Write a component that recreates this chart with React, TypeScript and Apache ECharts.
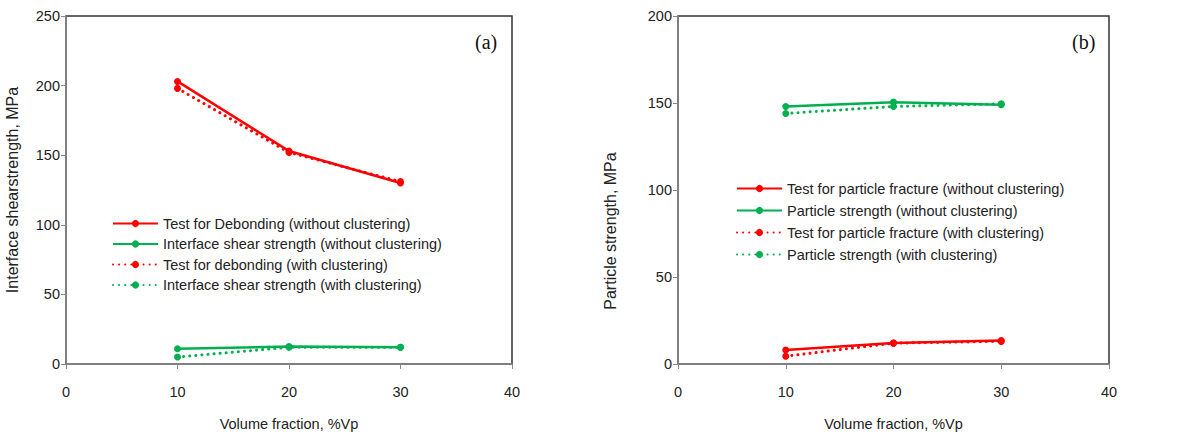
import React, { useEffect, useRef } from "react";
import * as echarts from "echarts";

const volumeFraction = [10, 20, 30];

// Panel (a)
const debondingWithout = [203, 153, 130];
const shearWithout = [11, 12.5, 12];
const debondingWith = [198, 152, 131];
const shearWith = [5, 12, 12];

// Panel (b)
const fractureWithout = [8, 12, 13.5];
const particleWithout = [148, 150.5, 149];
const fractureWith = [4.5, 12, 13];
const particleWith = [144, 148, 149.5];

const namesA = [
  "Test for Debonding (without clustering)",
  "Interface shear strength (without clustering)",
  "Test for debonding (with clustering)",
  "Interface shear strength (with clustering)",
];
const namesB = [
  "Test for particle fracture (without clustering)",
  "Particle strength (without clustering)",
  "Test for particle fracture (with clustering)",
  "Particle strength (with clustering)",
];

const RED = "#ff0000";
const GREEN = "#00b050";
const FONT = "Liberation Sans, Arial, sans-serif";

const pairs = (ys: number[]) => volumeFraction.map((x, i) => [x, ys[i]]);

function mkSeries(name: string, ys: number[], color: string, dotted: boolean, idx: number) {
  return {
    name,
    type: "line",
    xAxisIndex: idx,
    yAxisIndex: idx,
    data: pairs(ys),
    symbol: "circle",
    symbolSize: 7,
    itemStyle: { color },
    lineStyle: dotted
      ? { color, width: 3, type: [0.1, 6], cap: "round" }
      : { color, width: 2.5, type: "solid" },
  };
}

function xAxis(idx: number) {
  return {
    type: "value",
    gridIndex: idx,
    min: 0,
    max: 40,
    interval: 10,
    name: "Volume fraction, %Vp",
    nameLocation: "middle",
    nameGap: 52,
    nameTextStyle: { color: "#222", fontSize: 14.5, fontFamily: FONT },
    axisLine: { onZero: false, lineStyle: { color: "#888", width: 1.5 } },
    axisTick: { show: true, length: 5, lineStyle: { color: "#888" } },
    axisLabel: { color: "#222", fontSize: 14.5, fontFamily: FONT, margin: 20 },
    splitLine: { show: false },
  };
}

function yAxis(idx: number, max: number, name: string, gap: number) {
  return {
    type: "value",
    gridIndex: idx,
    min: 0,
    max,
    interval: 50,
    name,
    nameLocation: "middle",
    nameGap: gap,
    nameTextStyle: { color: "#222", fontSize: 16, fontFamily: FONT },
    axisLine: { show: true, lineStyle: { color: "#888", width: 1.5 } },
    axisTick: { show: true, length: 5, lineStyle: { color: "#888" } },
    axisLabel: { color: "#222", fontSize: 14.5, fontFamily: FONT, margin: 6 },
    splitLine: { show: false },
  };
}

export default function App() {
  const ref = useRef<HTMLDivElement>(null);
  useEffect(() => {
    if (!ref.current) return;
    const chart = echarts.init(ref.current, null, { renderer: "svg" });
    const legendCommon = {
      orient: "vertical",
      itemWidth: 45,
      itemHeight: 9,
      itemGap: 5.5,
      textStyle: { color: "#222", fontSize: 14.5, fontFamily: FONT, lineHeight: 14 },
    };
    chart.setOption({
      animation: false,
      backgroundColor: "#fff",
      grid: [
        { left: 66, top: 16, width: 446, height: 349, show: true, borderColor: "#333", borderWidth: 1.5, backgroundColor: "transparent" },
        { left: 678, top: 16, width: 431, height: 349, show: true, borderColor: "#333", borderWidth: 1.5, backgroundColor: "transparent" },
      ],
      xAxis: [xAxis(0), xAxis(1)],
      yAxis: [
        yAxis(0, 250, "Interface shearstrength, MPa", 46),
        { ...yAxis(1, 200, "", 60), name: "" },
      ],
      legend: [
        { ...legendCommon, data: namesA, left: 107, top: 211 },
        { ...legendCommon, itemGap: 7, data: namesB, left: 731, top: 176 },
      ],
      graphic: [
        { type: "text", left: 475, top: 32, style: { text: "(a)", fontSize: 20, fontFamily: "Liberation Serif, Times New Roman, serif", fill: "#111" } },
        { type: "text", left: 1072, top: 32, style: { text: "(b)", fontSize: 20, fontFamily: "Liberation Serif, Times New Roman, serif", fill: "#111" } },
        {
          type: "text",
          x: 610,
          y: 231,
          rotation: Math.PI / 2,
          style: {
            text: "Particle strength, MPa",
            fontSize: 16,
            fontFamily: FONT,
            fill: "#222",
            align: "center",
            verticalAlign: "middle",
          },
        },
      ],
      series: [
        mkSeries(namesA[0], debondingWithout, RED, false, 0),
        mkSeries(namesA[1], shearWithout, GREEN, false, 0),
        mkSeries(namesA[2], debondingWith, RED, true, 0),
        mkSeries(namesA[3], shearWith, GREEN, true, 0),
        mkSeries(namesB[0], fractureWithout, RED, false, 1),
        mkSeries(namesB[1], particleWithout, GREEN, false, 1),
        mkSeries(namesB[2], fractureWith, RED, true, 1),
        mkSeries(namesB[3], particleWith, GREEN, true, 1),
      ],
    });
    return () => chart.dispose();
  }, []);
  return (
    <div
      ref={ref}
      style={{ position: "absolute", left: 0, top: 0, width: 1199, height: 436 }}
    />
  );
}
